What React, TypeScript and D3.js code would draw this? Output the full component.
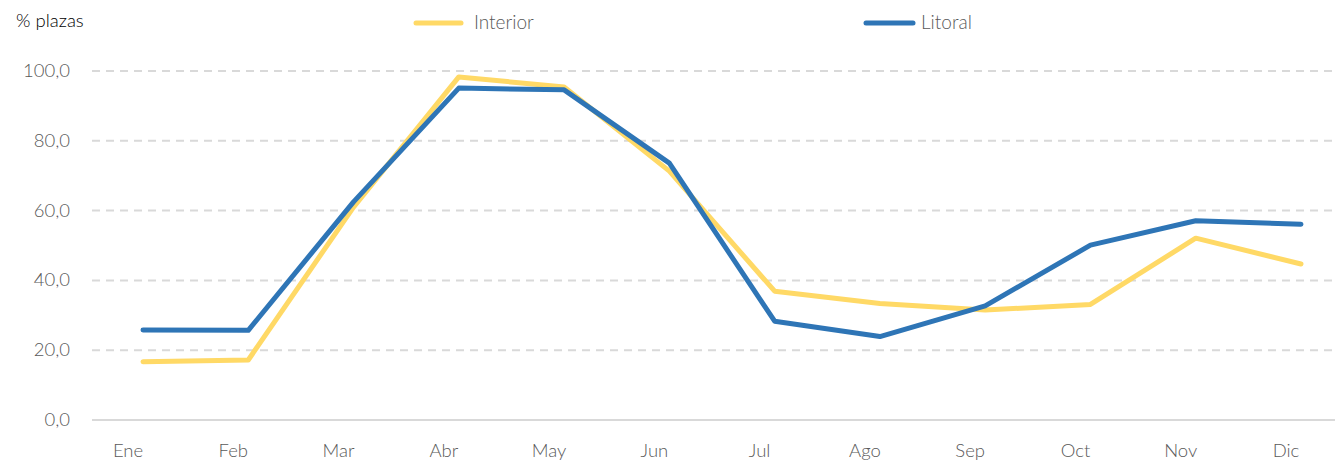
import React from "react";
import * as d3 from "d3";

const months = ["Ene", "Feb", "Mar", "Abr", "May", "Jun", "Jul", "Ago", "Sep", "Oct", "Nov", "Dic"];
const interior = [16.7, 17.2, 61.0, 98.3, 95.4, 71.3, 36.9, 33.4, 31.5, 33.1, 52.1, 44.7];
const litoral = [25.8, 25.7, 62.5, 95.1, 94.6, 73.6, 28.3, 23.9, 32.7, 50.1, 57.1, 56.1];
const yTicks = [0, 20, 40, 60, 80, 100];

const W = 1338, H = 462;
const left = 92, right = 1335, top = 71, bottom = 420;
const FONT = "Lato, 'Source Sans Pro', 'Noto Sans', sans-serif";
const YELLOW = "#FFD966";
const BLUE = "#2E75B6";

export default function App() {
  const x = d3.scalePoint<string>().domain(months).range([143, 1301]);
  const y = d3.scaleLinear().domain([0, 100]).range([bottom, top]);
  const cx = (m: string) => x(m) ?? 0;
  const line = d3.line<number>().x((_, i) => cx(months[i])).y((v) => y(v));
  const fmt = (v: number) => v.toFixed(1).replace(".", ",");

  return (
    <svg width={W} height={H} style={{ position: "absolute", left: 0, top: 0 }}>
      <rect width={W} height={H} fill="#fff" />
      {yTicks.map((t) => (
        <g key={t}>
          <line x1={left} x2={right} y1={y(t)} y2={y(t)} stroke="#d9d9d9" strokeWidth={2}
            strokeDasharray={t === 0 ? undefined : "8 6"} />
          <text x={70} y={y(t) + 6} textAnchor="end" fontFamily={FONT} fontWeight={300} fontSize={18.5} fill="#595959">{fmt(t)}</text>
        </g>
      ))}
      {months.map((m) => (
        <text key={m} x={cx(m) - 15} y={457} textAnchor="middle" fontFamily={FONT} fontWeight={300} fontSize={18.5} fill="#595959">{m}</text>
      ))}
      <path d={line(interior) ?? ""} fill="none" stroke={YELLOW} strokeWidth={5} strokeLinecap="round" strokeLinejoin="round" />
      <path d={line(litoral) ?? ""} fill="none" stroke={BLUE} strokeWidth={5} strokeLinecap="round" strokeLinejoin="round" />
      <text x={16} y={27} fontFamily={FONT} fontWeight={300} fontSize={18.5} fill="#000">% plazas</text>
      <line x1={416} x2={461} y1={23} y2={23} stroke={YELLOW} strokeWidth={5} strokeLinecap="round" />
      <text x={474} y={29} fontFamily={FONT} fontWeight={300} fontSize={19} fill="#595959">Interior</text>
      <line x1={866} x2={913} y1={23} y2={23} stroke={BLUE} strokeWidth={5} strokeLinecap="round" />
      <text x={921} y={29} fontFamily={FONT} fontWeight={300} fontSize={19} fill="#595959">Litoral</text>
    </svg>
  );
}
